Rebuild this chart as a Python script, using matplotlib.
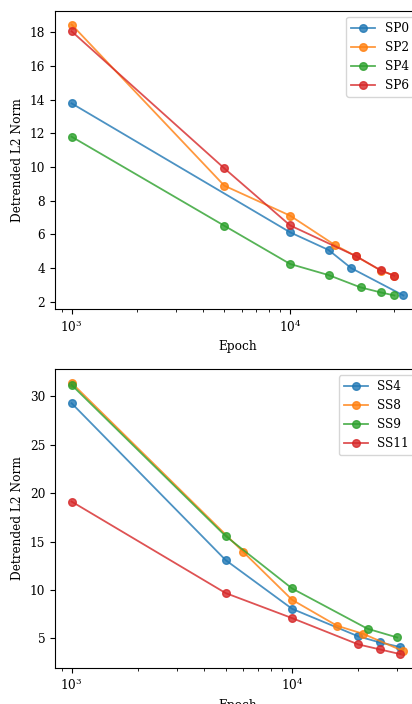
import numpy as np
import matplotlib
matplotlib.use("Agg")
import matplotlib.pyplot as plt

plt.rcParams['font.family'] = ['DejaVu Serif']
plt.rcParams['mathtext.fontset'] = 'dejavuserif'
plt.rcParams['font.size'] = 8.7

# top panel
sp_names = ['SP0', 'SP2', 'SP4', 'SP6']
sp0_x = [1000, 10000, 15000, 19000, 33000]
sp0_y = [13.78, 6.12, 5.07, 4.0, 2.37]
sp2_x = [1000, 5000, 10000, 16000, 20000, 26000, 30000]
sp2_y = [18.46, 8.89, 7.11, 5.37, 4.7, 3.85, 3.55]
sp4_x = [1000, 5000, 10000, 15000, 21000, 26000, 30000]
sp4_y = [11.8, 6.51, 4.24, 3.58, 2.85, 2.55, 2.37]
sp6_x = [1000, 5000, 10000, 20000, 26000, 30000]
sp6_y = [18.06, 9.92, 6.53, 4.71, 3.86, 3.54]

# bottom panel
ss_names = ['SS4', 'SS8', 'SS9', 'SS11']
ss4_x = [1000, 5000, 10000, 20000, 25000, 31000]
ss4_y = [29.28, 13.08, 8.06, 5.21, 4.59, 4.11]
ss8_x = [1000, 6000, 10000, 16000, 21000, 32000]
ss8_y = [31.38, 13.94, 8.99, 6.31, 5.48, 3.69]
ss9_x = [1000, 5000, 10000, 22000, 30000]
ss9_y = [31.17, 15.56, 10.16, 6.0, 5.10]
ss11_x = [1000, 5000, 10000, 20000, 25000, 31000]
ss11_y = [19.13, 9.68, 7.10, 4.38, 3.87, 3.38]

fig = plt.figure(figsize=(4.12, 7.04), dpi=100)
ax1 = fig.add_axes([55 / 412, 395 / 704, 365 / 412, 298 / 704])
ax2 = fig.add_axes([55 / 412, 36.3 / 704, 365 / 412, 298.4 / 704])

top = [(sp0_x, sp0_y), (sp2_x, sp2_y), (sp4_x, sp4_y), (sp6_x, sp6_y)]
for (x, y), name in zip(top, sp_names):
    ax1.plot(x, y, marker='o', ms=5.5, lw=1.3, alpha=0.8, label=name)

bottom = [(ss4_x, ss4_y), (ss8_x, ss8_y), (ss9_x, ss9_y), (ss11_x, ss11_y)]
for (x, y), name in zip(bottom, ss_names):
    ax2.plot(x, y, marker='o', ms=5.5, lw=1.3, alpha=0.8, label=name)

for ax in (ax1, ax2):
    ax.set_xscale('log')
    ax.set_xlabel('Epoch')
    ax.set_ylabel('Detrended L2 Norm')
    ax.legend(loc='upper right')

ax1.set_yticks([2, 4, 6, 8, 10, 12, 14, 16, 18])
ax2.set_yticks([5, 10, 15, 20, 25, 30])

fig.savefig('out.png', dpi=100)
